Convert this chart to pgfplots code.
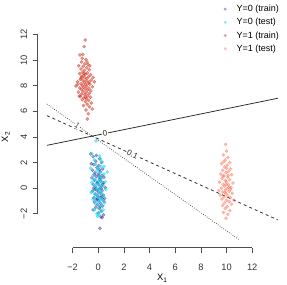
\documentclass[border=0pt]{standalone}
\usepackage{fontspec}
\setmainfont{Liberation Sans}
\usepackage{pgfplots}
\pgfplotsset{compat=1.18}
\definecolor{cA}{RGB}{0,0,128}
\definecolor{cB}{RGB}{0,220,240}
\definecolor{cC}{RGB}{205,35,15}
\definecolor{cD}{RGB}{255,99,71}
\pgfplotsset{myleg/.style={legend image code/.code={\fill[##1,draw=none] (4bp,0bp) circle (1.6bp);\path[draw=none] (0bp,0bp) -- (15bp,0bp);}}}
\begin{document}
\begin{tikzpicture}
\useasboundingbox (-37.7bp,-37.5bp) rectangle (249.3bp,247.5bp);
\begin{axis}[
  scale only axis, width=249.4bp, height=221.2bp,
  xmin=-4.72, xmax=14.72, ymin=-4.64, ymax=12.64,
  clip=false,
  axis x line*=bottom, axis y line*=left,
  axis line style={draw=none,-},
  tick align=outside, major tick length=5bp,
  tick style={black!70, line width=0.6bp},
  xtick={-2,0,...,12}, ytick={-2,0,...,12},
  xticklabels={−2,0,2,4,6,8,10,12},
  yticklabels={−2,0,2,4,6,8,10,12},
  xticklabel shift=8bp, yticklabel shift=2bp,
  font=\fontsize{9.3bp}{11bp}\selectfont,
  ticklabel style={font=\fontsize{9.3bp}{11bp}\selectfont, text=black!80},
  yticklabel style={rotate=90, anchor=south},
  xlabel={X\textsubscript{1}}, ylabel={X\textsubscript{2}},
  xlabel style={at={(axis description cs:0.5,-0.140)}, anchor=center},
  ylabel style={at={(axis description cs:-0.128,0.5)}, anchor=center},
  legend cell align=left,
  legend style={draw=none, fill=none, inner sep=0pt, at={(axis description cs:0.735,1.103)}, anchor=north west,
    row sep=2.4bp, nodes={inner sep=0.5bp, text height=7.5bp, text depth=2.3bp},
    font=\fontsize{9bp}{11bp}\selectfont},
]
% Y=0 train
\addplot[only marks, mark=*, mark size=1.6bp, cA, opacity=0.35, mark options={draw=none}, myleg] coordinates {
(-0.59,2.66) (-0.40,2.45) (0.10,2.30) (-0.20,2.10) (0.25,2.00) (-0.35,1.85) (0.05,1.75) (-0.10,1.60) (0.35,1.50) (-0.45,1.40)
(0.15,1.30) (-0.25,1.20) (0.00,1.10) (0.30,1.00) (-0.15,0.90) (0.45,0.85) (-0.50,0.80) (0.10,0.70) (-0.30,0.60) (0.20,0.55)
(-0.05,0.45) (0.40,0.40) (-0.40,0.30) (0.05,0.25) (0.25,0.15) (-0.20,0.10) (0.55,0.05) (-0.35,0.00) (0.10,-0.05) (-0.10,-0.15)
(0.30,-0.20) (-0.45,-0.25) (0.00,-0.30) (0.20,-0.40) (-0.25,-0.45) (0.40,-0.55) (-0.05,-0.60) (0.15,-0.70) (-0.35,-0.75) (0.30,-0.85)
(-0.15,-0.90) (0.05,-1.00) (0.45,-1.05) (-0.30,-1.10) (0.20,-1.20) (-0.05,-1.30) (0.35,-1.40) (-0.20,-1.50) (0.10,-1.60) (-0.40,-1.70)
(0.25,-1.80) (0.00,-1.95) (0.40,-2.10) (0.20,-2.25) (0.30,-2.30) (0.13,-3.14) (-0.55,1.90) (0.50,-0.80) (-0.15,2.55) (0.05,0.95)
(0.35,0.30) (-0.25,-0.10) (0.15,-1.45) (-0.10,0.40) (0.28,-0.65) (0.08,1.45) (-0.30,1.05) (0.22,-0.02) (-0.05,-0.85) (0.18,0.80)
};
\addlegendentry{Y=0 (train)}
% Y=0 test
\addplot[only marks, mark=*, mark size=1.6bp, cB, opacity=0.5, mark options={draw=none}, myleg] coordinates {
(-0.18,3.68) (-0.50,2.70) (0.10,2.50) (-0.30,2.20) (0.30,2.05) (0.70,1.26) (-0.60,1.55) (0.20,1.70) (-0.10,1.40) (0.45,1.10)
(-0.40,1.00) (0.05,0.90) (0.25,0.75) (-0.20,0.65) (0.55,0.50) (-0.50,0.45) (0.00,0.35) (0.35,0.20) (-0.30,0.15) (0.15,0.05)
(-0.10,-0.05) (0.60,-0.10) (-0.45,-0.20) (0.25,-0.30) (0.05,-0.40) (-0.25,-0.50) (0.40,-0.60) (-0.05,-0.70) (0.20,-0.80) (-0.40,-0.90)
(0.10,-1.00) (0.50,-1.15) (-0.20,-1.25) (0.30,-1.40) (0.00,-1.55) (-0.30,-1.70) (0.20,-1.85) (-0.10,-2.00) (0.05,-2.10) (-0.05,-2.20)
(0.15,1.20) (-0.15,0.30) (0.35,-0.95) (-0.35,0.70) (0.45,1.70) (0.10,-0.15) (-0.20,1.85) (0.25,0.45) (-0.55,-0.35) (0.00,1.55)
(0.38,-1.70) (-0.08,-1.10) (0.18,2.25) (-0.28,-0.75) (0.12,0.60)
};
\addlegendentry{Y=0 (test)}
% Y=1 train
\addplot[only marks, mark=*, mark size=1.6bp, cC, opacity=0.45, mark options={draw=none}, myleg] coordinates {
(-1.01,11.57) (-1.10,11.05) (-1.43,10.40) (-1.25,10.15) (-0.95,10.05) (-1.30,9.85) (-1.05,9.70) (-0.80,9.65) (-1.52,9.55) (-1.18,9.50)
(-0.90,9.40) (-1.35,9.30) (-0.70,9.25) (-1.08,9.20) (-1.22,9.05) (-0.85,9.00) (-1.45,8.95) (-0.98,8.90) (-0.60,8.85) (-1.15,8.80)
(-1.30,8.72) (-0.75,8.70) (-1.05,8.62) (-0.88,8.55) (-1.40,8.50) (-0.55,8.45) (-1.20,8.42) (-0.95,8.38) (-1.60,8.30) (-0.31,8.30)
(-1.10,8.25) (-0.80,8.20) (-1.35,8.15) (-0.65,8.12) (-1.00,8.08) (-1.25,8.02) (-1.74,7.97) (-0.90,7.95) (-0.45,7.92) (-1.15,7.88)
(-1.45,7.82) (-0.72,7.80) (-1.02,7.75) (-1.30,7.70) (-0.85,7.65) (-0.58,7.60) (-1.18,7.55) (-1.55,7.50) (-0.95,7.45) (-0.70,7.40)
(-1.28,7.35) (-1.05,7.30) (-0.82,7.22) (-1.40,7.15) (-0.60,7.10) (-1.12,7.05) (-0.92,6.98) (-1.25,6.90) (-0.75,6.85) (-1.00,6.75)
(-0.55,6.65) (-0.85,6.55) (-1.15,6.45) (-0.68,6.35) (-0.47,6.18) (-0.95,6.10) (-0.78,5.80) (-0.86,5.40) (-1.20,10.45) (-0.88,9.85)
(-1.62,8.10) (-0.40,8.65) (-1.48,7.20) (-0.65,9.55) (-1.33,8.60) (-0.98,7.10) (-1.10,8.95) (-0.72,8.30)
};
\addlegendentry{Y=1 (train)}
% Y=1 test
\addplot[only marks, mark=*, mark size=1.6bp, cD, opacity=0.4, mark options={draw=none}, myleg] coordinates {
(9.93,3.42) (10.00,2.90) (9.75,2.60) (10.10,2.40) (9.90,2.20) (10.25,2.00) (9.60,1.90) (10.05,1.80) (9.85,1.65) (10.30,1.50)
(9.70,1.40) (10.15,1.30) (9.95,1.20) (9.55,1.10) (10.40,1.05) (9.80,0.95) (10.10,0.85) (9.65,0.75) (10.25,0.65) (9.90,0.60)
(10.00,0.50) (9.45,0.45) (10.50,0.40) (9.75,0.30) (10.15,0.25) (9.85,0.15) (10.35,0.05) (9.60,0.00) (10.05,-0.05) (9.90,-0.15)
(10.20,-0.25) (9.70,-0.30) (10.45,-0.40) (9.95,-0.45) (9.50,-0.55) (10.10,-0.60) (9.80,-0.70) (10.30,-0.75) (9.65,-0.85) (10.00,-0.95)
(10.20,-1.05) (9.85,-1.15) (10.40,-1.25) (9.70,-1.35) (10.05,-1.45) (9.90,-1.60) (10.25,-1.75) (9.75,-1.90) (10.10,-2.05) (9.96,-2.36)
(10.60,-0.95) (9.40,-0.20) (10.00,1.55) (9.78,2.05) (10.18,0.05) (9.88,-0.35) (10.12,1.00) (9.72,0.95) (10.32,-0.10) (9.98,0.30)
};
\addlegendentry{Y=1 (test)}
% contour lines
\addplot[black!85, line width=0.75bp, forget plot] coordinates {(-4,3.34) (14,7.02)}
  node[pos=0.251, sloped, fill=white, inner sep=0.8bp, font=\fontsize{8bp}{9bp}\selectfont]{0};
\addplot[black!85, line width=0.75bp, dash pattern=on 3bp off 3bp, forget plot] coordinates {(-4,5.66) (14,-2.49)}
  node[pos=0.371, sloped, fill=white, inner sep=0.8bp, font=\fontsize{8bp}{9bp}\selectfont]{0.1};
\addplot[black!70, line width=0.75bp, dash pattern=on 0.75bp off 1.5bp, forget plot] coordinates {(-4,6.57) (10.94,-4)}
  node[pos=0.158, sloped, fill=white, inner sep=0.8bp, font=\fontsize{8bp}{9bp}\selectfont]{1};
% axis lines
\draw[black!70, line width=0.6bp] (axis cs:-2,-4.64) -- (axis cs:12,-4.64);
\draw[black!70, line width=0.6bp] (axis cs:-4.72,-2) -- (axis cs:-4.72,12);
\end{axis}
\end{tikzpicture}
\end{document}
